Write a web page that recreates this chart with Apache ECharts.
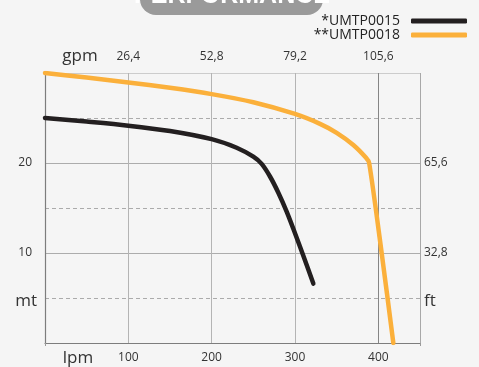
<!DOCTYPE html>
<html>
<head>
<meta charset="utf-8">
<style>
html,body{margin:0;padding:0;background:#f5f5f5;}
#chart{width:479px;height:367px;}
</style>
<script src="https://cdn.jsdelivr.net/npm/echarts@6/dist/echarts.min.js"></script>
</head>
<body>
<div id="chart"></div>
<script>
// ---- data ----
const seriesNames = ['*UMTP0015', '**UMTP0018'];
const flow0015 = [0, 50, 100, 150, 200, 230, 250, 260, 270, 280, 290, 300, 310, 322];
const head0015 = [25, 24.6, 24.15, 23.55, 22.65, 21.7, 20.7, 19.9, 18.5, 16.7, 14.6, 12.2, 9.7, 6.6];
const flow0018 = [0, 50, 100, 150, 200, 250, 300, 330, 350, 370, 385, 389, 404, 418];
const head0018 = [30, 29.5, 28.95, 28.35, 27.65, 26.75, 25.45, 24.35, 23.35, 22.0, 20.6, 20.0, 10, 0];
const lpmTicks = [100, 200, 300, 400];
const gpmLabels = ['26,4', '52,8', '79,2', '105,6'];
const mTicks = [5, 10, 20];
const mLabels = ['mt', '10', '20'];
const ftLabels = ['ft', '32,8', '65,6'];

const FONT = '"Open Sans", "Noto Sans", sans-serif';
const zip = (xs, ys) => xs.map((x, i) => [x, ys[i]]);

const chart = echarts.init(document.getElementById('chart'), null, {renderer: 'canvas'});
const option = {
  backgroundColor: '#f5f5f5',
  animation: false,
  textStyle: {fontFamily: FONT},
  grid: {left: 45, right: 59, top: 73, bottom: 24, containLabel: false},
  legend: {
    orient: 'vertical', right: 7, top: 9, align: 'right',
    itemWidth: 56, itemHeight: 5, itemGap: 0, icon: 'roundRect',
    data: seriesNames,
    textStyle: {fontSize: 14, color: '#222', fontFamily: FONT, padding: [0, 6, 0, 0]}
  },
  xAxis: [
    {
      type: 'value', position: 'bottom', min: 0, max: 450, interval: 50,
      axisLine: {show: true, lineStyle: {color: '#7d7d7d', width: 1.2}},
      axisTick: {show: true, customValues: [0, 450], length: 3, lineStyle: {color: '#9a9a9a'}},
      axisLabel: {customValues: lpmTicks, fontSize: 12, color: '#333', margin: 9, fontFamily: FONT},
      splitLine: {show: true, lineStyle: {color: '#ababab', type: [4, 3], width: 1}}
    },
    {
      type: 'value', position: 'top', min: 0, max: 450, interval: 100,
      axisLine: {show: false}, axisTick: {show: false},
      axisLabel: {customValues: lpmTicks, fontSize: 12, color: '#333', margin: 10, fontFamily: FONT,
        formatter: v => gpmLabels[lpmTicks.indexOf(v)]},
      splitLine: {show: false}
    },
    {
      type: 'value', position: 'bottom', min: 0, max: 450, interval: 100,
      axisLine: {show: false}, axisTick: {show: false}, axisLabel: {show: false},
      splitLine: {show: true, lineStyle: {width: 1,
        color: ['#b4b4b4', '#b4b4b4', '#b4b4b4', '#b4b4b4', '#858585', '#a8a8a8']}}
    }
  ],
  yAxis: [
    {
      type: 'value', position: 'left', min: 0, max: 30, interval: 5,
      axisLine: {show: true, lineStyle: {color: '#7d7d7d', width: 1.2}},
      axisTick: {show: false},
      axisLabel: {customValues: mTicks, margin: 8, color: '#333',
        formatter: v => { const i = mTicks.indexOf(v); return i === 0 ? '{u|' + mLabels[i] + '}' : '{n|' + mLabels[i] + '}'; },
        rich: {u: {fontSize: 17, color: '#333', fontFamily: FONT, padding: [7, 0, 0, 0]},
               n: {fontSize: 12, color: '#333', fontFamily: FONT, padding: [0, 5, 0, 0]}}},
      splitLine: {show: true, lineStyle: {color: '#ababab', type: [4, 3], width: 1}}
    },
    {
      type: 'value', position: 'right', min: 0, max: 30, interval: 10,
      axisLine: {show: false}, axisTick: {show: false},
      axisLabel: {customValues: mTicks, margin: 4, color: '#333',
        formatter: v => { const i = mTicks.indexOf(v); return i === 0 ? '{u|' + ftLabels[i] + '}' : '{n|' + ftLabels[i] + '}'; },
        rich: {u: {fontSize: 17, color: '#333', fontFamily: FONT, padding: [7, 0, 0, 0]},
               n: {fontSize: 12, color: '#333', fontFamily: FONT}}},
      splitLine: {show: true, lineStyle: {width: 1, color: ['#b4b4b4', '#acacac', '#acacac', '#cccccc']}}
    }
  ],
  series: [
    {
      name: seriesNames[0], type: 'line', xAxisIndex: 0, yAxisIndex: 0,
      data: zip(flow0015, head0015), smooth: 0.3, showSymbol: false, symbol: 'none',
      color: '#231f20', lineStyle: {color: '#231f20', width: 4.5, cap: 'round', join: 'round'}, z: 5
    },
    {
      name: seriesNames[1], type: 'line', xAxisIndex: 0, yAxisIndex: 0,
      data: zip(flow0018, head0018), smooth: 0.25, showSymbol: false, symbol: 'none',
      color: '#fbb03b', lineStyle: {color: '#fbb03b', width: 4.5, cap: 'round', join: 'round'}, z: 5
    }
  ],
  graphic: [
    {type: 'rect', shape: {x: 140, y: -20, width: 183, height: 35, r: [0, 0, 16, 16]}, style: {fill: '#9a9a9a'}, z: 10},
    {type: 'text', x: 232, y: 9, z: 11, style: {text: 'PERFORMANCE', fill: '#ffffff', align: 'center', verticalAlign: 'bottom',
      font: 'bold 25px "Liberation Sans Narrow", "Liberation Sans", sans-serif'}},
    {type: 'text', x: 80, y: 56, style: {text: 'gpm', fill: '#333', align: 'center', verticalAlign: 'middle', font: '17px ' + FONT}},
    {type: 'text', x: 78, y: 358, style: {text: 'lpm', fill: '#333', align: 'center', verticalAlign: 'middle', font: '17px ' + FONT}}
  ]
};
chart.setOption(option);
</script>
</body>
</html>
